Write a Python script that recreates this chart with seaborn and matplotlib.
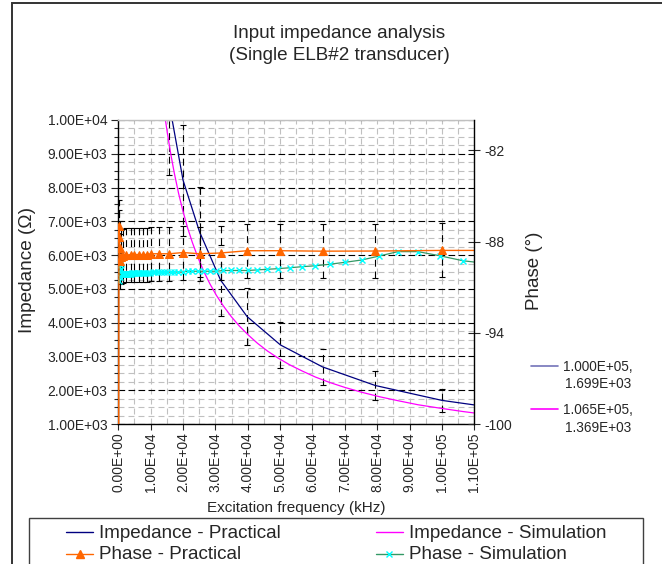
import matplotlib
matplotlib.use("Agg")
import matplotlib.pyplot as plt
import numpy as np
import pandas as pd
import seaborn as sns
from matplotlib.lines import Line2D
from matplotlib.patches import Rectangle
from matplotlib.ticker import FixedLocator, FuncFormatter, MultipleLocator

# ---- data ----
PRAC_FREQ = [100, 200, 300, 450, 600, 800, 1450, 2500, 3800, 5000, 6300, 7600, 9000,
             10000, 12600, 15800, 20000, 25100, 31600, 39800, 50100, 63100, 79400,
             100000, 126000]
PRAC_IMP = [1.7e6, 8.5e5, 5.7e5, 3.8e5, 2.8e5, 2.1e5, 1.2e5, 6.8e4, 4.5e4, 3.4e4, 2.7e4,
            2.2e4, 1.9e4, 1.7e4, 1.33e4, 1.045e4, 8220, 6690, 5260, 4180, 3340, 2690,
            2140, 1699, 1350]
PRAC_PHASE = [-106.0, -87.0, -87.7, -88.4, -89.3, -89.0, -88.95, -88.9, -88.85, -88.85,
              -88.85, -88.85, -88.85, -88.8, -88.8, -88.8, -88.72, -88.8, -88.75, -88.6,
              -88.6, -88.63, -88.62, -88.58, -88.58]

SIM_FREQ = [200, 400, 600, 800, 1000, 1100, 1200, 1300, 1400, 1500, 1600, 1700, 1800,
            2000, 2100, 2300, 2400, 2600, 2800, 3000, 3200, 3500, 3700, 4000, 4300, 4600,
            4900, 5300, 5700, 6100, 6500, 7000, 7500, 8000, 8600, 9200, 9900, 10600,
            11400, 12200, 13100, 14100, 15100, 16200, 17300, 18600, 19900, 21400, 22900,
            24600, 26400, 28300, 30300, 32500, 34900, 37400, 40100, 43000, 46100, 49400,
            53000, 56800, 60900, 65300, 70100, 75200, 80600, 86400, 92600, 99300, 106500,
            114200]
SIM_IMP = [7.3e5, 3.6e5, 2.4e5, 1.8e5, 1.46e5, 1.33e5, 1.22e5, 1.12e5, 1.04e5, 9.7e4,
           9.1e4, 8.6e4, 8.1e4, 7.3e4, 6.9e4, 6.3e4, 6.1e4, 5.6e4, 5.2e4, 4.9e4, 4.6e4,
           4.2e4, 3.9e4, 3.6e4, 3.4e4, 3.2e4, 3.0e4, 2.75e4, 2.56e4, 2.39e4, 2.24e4,
           2.08e4, 1.94e4, 1.82e4, 1.70e4, 1.58e4, 1.47e4, 1.37e4, 1.28e4, 1.19e4,
           1.11e4, 1.03e4, 9650, 9000, 8430, 7840, 7330, 6810, 6370, 5930, 5520, 5150,
           4810, 4490, 4180, 3900, 3640, 3390, 3160, 2950, 2750, 2570, 2390, 2230, 2080,
           1940, 1810, 1690, 1570, 1470, 1369, 1275]
SIM_PHASE = [-90.6, -89.55, -90.3, -89.8, -90.1, -90.1, -90.1, -90.1, -90.1, -90.1,
             -90.1, -90.1, -90.1, -90.1, -90.1, -90.1, -90.1, -90.1, -90.1, -90.1,
             -90.1, -90.1, -90.1, -90.1, -90.05, -90.05, -90.05, -90.05, -90.05, -90.05,
             -90.05, -90.05, -90.05, -90.05, -90.05, -90.05, -90.05, -90.0, -90.0, -90.0,
             -90.0, -90.0, -90.0, -90.0, -90.0, -90.0, -90.0, -89.95, -89.95, -89.95,
             -89.95, -89.95, -89.95, -89.9, -89.9, -89.9, -89.9, -89.86, -89.82, -89.78,
             -89.72, -89.65, -89.59, -89.49, -89.36, -89.21, -88.95, -88.66, -88.66,
             -88.93, -89.26, -89.45]

IMP_ERR_PCT = 20
PHASE_ERR_PCT = 2

X_TICKS = [i * 10000 for i in range(12)]
PHASE_TICKS = [-100, -94, -88, -82]
LABEL_A = ["1.000E+05,", "1.699E+03"]
LABEL_B = ["1.065E+05,", "1.369E+03"]

NAVY, MAGENTA, ORANGE, GREEN, CYAN = "#000080", "#FF00FF", "#FF6600", "#339966", "#00FFFF"
GRAY = "#c0c0c0"

sns.set_style("white")
plt.rcParams["font.family"] = ["Liberation Sans", "DejaVu Sans"]
plt.rcParams["lines.scale_dashes"] = False

W, H = 662, 564


def fx(px):
    return px / W


def fy(py):
    return 1 - py / H


fig = plt.figure(figsize=(W / 100, H / 100), dpi=100)
ax = fig.add_axes([fx(118.3), fy(424), (474.3 - 118.3) / W, (424 - 120) / H])
ax2 = ax.twinx()

# grid
ax.set_axisbelow(True)
ax.xaxis.set_major_locator(FixedLocator(X_TICKS))
ax.xaxis.set_minor_locator(MultipleLocator(5000))
ax.yaxis.set_major_locator(MultipleLocator(1000))
ax.yaxis.set_minor_locator(MultipleLocator(250))
ax.grid(which="both", axis="x", color=GRAY, ls=(0, (4.3, 2.9)), lw=0.8)
ax.grid(which="minor", axis="y", color=GRAY, ls=(0, (4.3, 2.9)), lw=0.8)
ax.grid(which="major", axis="y", color="black", ls=(0, (4.8, 2.4)), lw=0.8)

# error bars (dashed, like the Excel original)
eb = ax.errorbar(PRAC_FREQ, PRAC_IMP, yerr=[v * IMP_ERR_PCT / 100 for v in PRAC_IMP],
                 fmt="none", ecolor="black", elinewidth=0.8, capsize=2.5, capthick=0.8)
eb.lines[2][0].set_linestyle((0, (5, 3.5)))
eb2 = ax2.errorbar(PRAC_FREQ, PRAC_PHASE, yerr=[abs(v) * PHASE_ERR_PCT / 100 for v in PRAC_PHASE],
                   fmt="none", ecolor="black", elinewidth=0.8, capsize=2.5, capthick=0.8)
eb2.lines[2][0].set_linestyle((0, (5, 3.5)))

prac = pd.DataFrame({"freq": PRAC_FREQ, "imp": PRAC_IMP, "phase": PRAC_PHASE})
sim = pd.DataFrame({"freq": SIM_FREQ, "imp": SIM_IMP, "phase": SIM_PHASE})

sns.lineplot(data=prac, x="freq", y="imp", ax=ax, color=NAVY, lw=0.9,
             estimator=None, sort=False, legend=False)
sns.lineplot(data=sim, x="freq", y="imp", ax=ax, color=MAGENTA, lw=0.9,
             estimator=None, sort=False, legend=False)
sns.lineplot(data=sim, x="freq", y="phase", ax=ax2, color=GREEN, lw=0.9,
             marker="x", markersize=5, markeredgecolor=CYAN, markeredgewidth=1.0,
             estimator=None, sort=False, legend=False)
sns.lineplot(data=prac, x="freq", y="phase", ax=ax2, color=ORANGE, lw=1.0,
             marker="^", markersize=6, markeredgecolor=ORANGE, markerfacecolor=ORANGE,
             estimator=None, sort=False, legend=False)

ax.set_xlim(0, 110000)
ax.set_ylim(1000, 10000)
ax2.set_ylim(-100, -80)

# axes styling
ax.xaxis.set_major_formatter(FuncFormatter(lambda v, p: f"{v:.2E}"))
ax.yaxis.set_major_formatter(FuncFormatter(lambda v, p: f"{v:.2E}"))
ax.tick_params(axis="x", which="major", direction="out", length=4, width=0.8,
               labelsize=10, labelrotation=90, pad=2, bottom=True)
ax.tick_params(axis="x", which="minor", length=0)
ax.tick_params(axis="y", which="major", direction="out", length=5, width=0.8,
               labelsize=10, pad=3, left=True)
ax.tick_params(axis="y", which="minor", direction="out", length=3, width=0.8, left=True)
ax2.yaxis.set_major_locator(FixedLocator(PHASE_TICKS))
ax2.yaxis.set_major_formatter(FuncFormatter(lambda v, p: f"{v:.0f}"))
ax2.tick_params(axis="y", direction="inout", length=8, width=0.8, labelsize=10, pad=3,
                right=True)
ax2.grid(False)

for side in ("left", "bottom"):
    ax.spines[side].set_color("black")
    ax.spines[side].set_linewidth(1.0)
ax.spines["top"].set_color(GRAY)
ax.spines["top"].set_linewidth(1.0)
ax.spines["right"].set_visible(False)
for side in ("left", "top", "bottom"):
    ax2.spines[side].set_visible(False)
ax2.spines["right"].set_color("black")
ax2.spines["right"].set_linewidth(1.0)

ax.set_xlabel("Excitation frequency (kHz)", fontsize=11)
ax.xaxis.set_label_coords(0.5, -0.252)
ax.set_ylabel("Impedance (Ω)", fontsize=13.7)
ax.yaxis.set_label_coords(-0.231, 0.507)
ax2.set_ylabel("Phase (°)", fontsize=13.5)
ax2.yaxis.set_label_coords(1.145, 0.505)

# title
fig.text(fx(339.5), fy(25), "Input impedance analysis\n(Single ELB#2 transducer)",
         ha="center", va="top", fontsize=13.6, linespacing=1.42)

# data labels on the right
for (l1, l2), y0, col, alpha in ((LABEL_A, 365.7, NAVY, 0.55), (LABEL_B, 409.3, MAGENTA, 1.0)):
    fig.add_artist(Line2D([fx(530.5), fx(558.3)], [fy(y0), fy(y0)], color=col,
                          lw=1.2, alpha=alpha, transform=fig.transFigure))
    fig.text(fx(598.3), fy(y0 + 4.9), l1, ha="center", va="baseline", fontsize=9.8)
    fig.text(fx(598.3), fy(y0 + 22.5), l2, ha="center", va="baseline", fontsize=9.8)

# legend box at the bottom (cut by the figure edge, as in the original)
fig.add_artist(Rectangle((fx(29.3), fy(620)), (643 - 29.3) / W, (620 - 518.3) / H,
                         transform=fig.transFigure, fill=False, edgecolor="#404040",
                         lw=1.0, clip_on=False))
entries = [
    ("Impedance - Practical", 65.7, 537.7, NAVY, None, None),
    ("Impedance - Simulation", 375.5, 537.7, MAGENTA, None, None),
    ("Phase - Practical", 65.7, 559.0, ORANGE, "^", ORANGE),
    ("Phase - Simulation", 375.5, 559.0, GREEN, "x", CYAN),
]
for text, x0, base, col, mk, mcol in entries:
    ly = base - 5.5
    fig.add_artist(Line2D([fx(x0), fx(x0 + 27.6)], [fy(ly), fy(ly)], color=col, lw=1.0,
                          transform=fig.transFigure))
    if mk:
        fig.add_artist(Line2D([fx(x0 + 13.8)], [fy(ly)], marker=mk, markersize=6 if mk == "^" else 5,
                              color=mcol, markeredgecolor=mcol, markeredgewidth=1.0,
                              lw=0, transform=fig.transFigure))
    fig.text(fx(x0 + 33.5), fy(base), text, ha="left", va="baseline", fontsize=13.6)

# chart-area border (left and top visible in the crop)
fig.add_artist(Rectangle((fx(11.7), fy(700)), (800 - 11.7) / W, (700 - 2.7) / H,
                         transform=fig.transFigure, fill=False, edgecolor="#333333",
                         lw=1.4, clip_on=False))

fig.savefig("out.png", dpi=100)
